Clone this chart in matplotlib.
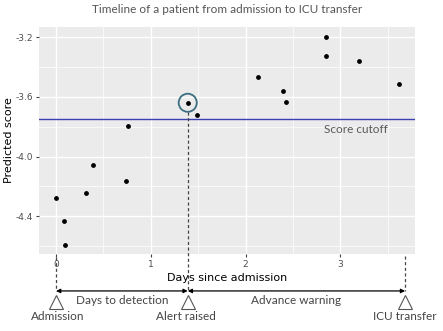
import numpy as np
import matplotlib.pyplot as plt

# ------------------------
# Data
# ------------------------
days = [0.0, 0.088, 0.092, 0.317, 0.391, 0.739, 0.757, 1.39, 1.489,
        2.13, 2.397, 2.426, 2.848, 2.854, 3.196, 3.615]
scores = [-4.276, -4.433, -4.592, -4.243, -4.059, -4.162, -3.795, -3.639, -3.721,
          -3.464, -3.562, -3.634, -3.323, -3.2, -3.359, -3.515]
cutoff = -3.75
admission_day = 0.0
alert_day = 1.39
alert_score = -3.639
icu_day = 3.685

x_ticks = [0, 1, 2, 3]
y_ticks = [-4.4, -4.0, -3.6, -3.2]

# ------------------------
# Figure
# ------------------------
fig = plt.figure(figsize=(4.43, 3.31), dpi=100)
ax = fig.add_axes([0.088, 0.233, 0.849, 0.685])
ax.set_facecolor('#ebebeb')
for s in ax.spines.values():
    s.set_visible(False)

ax.set_xlim(-0.18, 3.79)
ax.set_ylim(-4.654, -3.131)
ax.set_xticks(x_ticks)
ax.set_yticks(y_ticks)
ax.set_xticklabels([str(t) for t in x_ticks])
ax.set_yticklabels([f"{t:.1f}" for t in y_ticks])
ax.set_xticks([0.5, 1.5, 2.5, 3.5], minor=True)
ax.set_yticks([-4.6, -4.2, -3.8, -3.4], minor=True)
ax.grid(which='major', color='white', lw=1.0)
ax.grid(which='minor', color='white', lw=0.5)
ax.set_axisbelow(True)
ax.tick_params(which='major', length=2.5, color='#444444', labelcolor='#4d4d4d',
               labelsize=6.5, pad=2)
ax.tick_params(which='minor', length=0)

ax.axhline(cutoff, color='#3b3fb0', lw=1.0, zorder=2)
ax.text(3.17, cutoff - 0.07, "Score cutoff", color='#595959', fontsize=8.5,
        family='Lato', ha='center', va='center')

ax.scatter(days, scores, s=6, color='black', zorder=3)
ax.scatter([alert_day], [alert_score], s=170, facecolors='none',
           edgecolors='#3c6f80', linewidths=1.3, zorder=3)

ax.set_title("Timeline of a patient from admission to ICU transfer",
             fontsize=8.5, color='#555555', family='Lato', pad=10)
ax.set_ylabel("Predicted score", fontsize=8, color='black', labelpad=1)
ax.set_xlabel("Days since admission", fontsize=8, color='black', labelpad=3)

# ------------------------
# Timeline below the axis
# ------------------------
y_arrow = -4.903
y_tri = -4.975
y_lab = -5.075

ax.plot([alert_day, alert_day], [alert_score - 0.06, y_arrow], ls=(0, (2.5, 2)),
        color='#444444', lw=0.9, clip_on=False, zorder=2)
ax.plot([admission_day, admission_day], [-4.675, y_arrow], ls=(0, (2.5, 2)),
        color='#444444', lw=0.9, clip_on=False)
ax.plot([icu_day, icu_day], [-4.67, y_arrow], ls=(0, (2.5, 2)),
        color='#444444', lw=0.9, clip_on=False)

for a, b in [(admission_day, alert_day), (alert_day, icu_day)]:
    ax.annotate("", xy=(b, y_arrow), xytext=(a, y_arrow), annotation_clip=False,
                arrowprops=dict(arrowstyle='<|-|>', color='black', lw=0.9,
                                mutation_scale=6, shrinkA=0, shrinkB=0))

ax.plot([admission_day, alert_day, icu_day], [y_tri] * 3, ls='none', marker='^',
        ms=10, mfc='none', mec='#555555', mew=0.8, clip_on=False)

lab_kw = dict(fontsize=8.5, color='#444444', family='Lato', ha='center', va='center')
ax.text(admission_day + 0.02, y_lab, "Admission", **lab_kw)
ax.text(alert_day - 0.02, y_lab, "Alert raised", **lab_kw)
ax.text(icu_day, y_lab, "ICU transfer", **lab_kw)
ax.text(0.7, y_tri + 0.005, "Days to detection", **lab_kw)
ax.text(2.53, y_tri + 0.005, "Advance warning", **lab_kw)

fig.savefig("out.png", dpi=100)
